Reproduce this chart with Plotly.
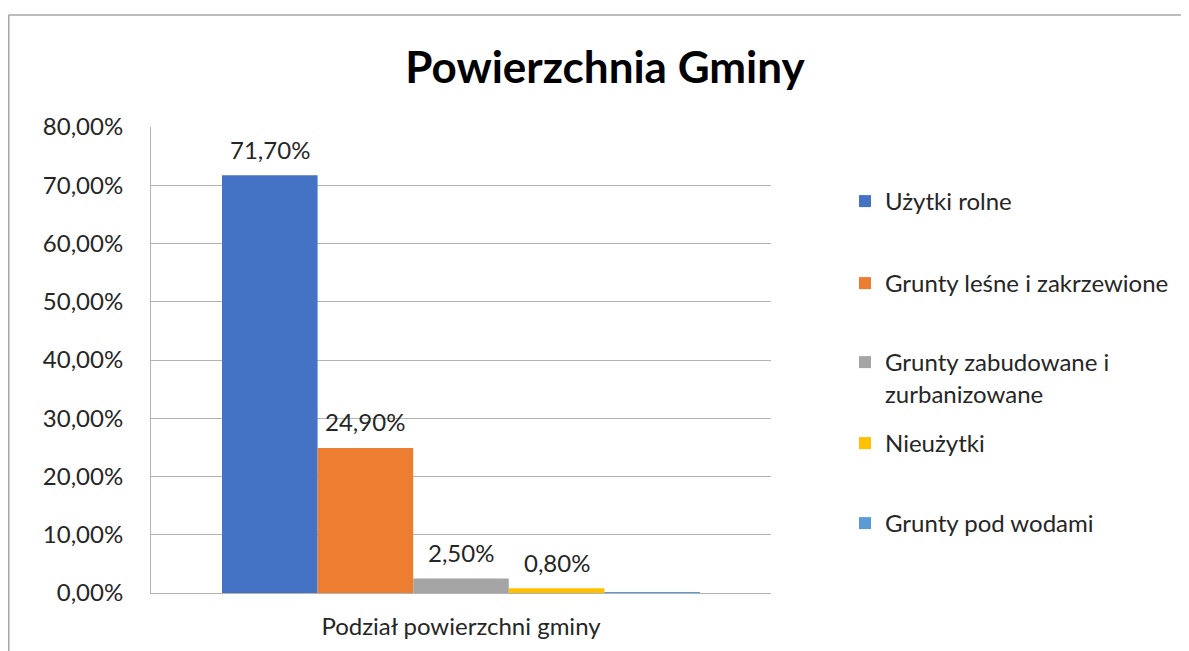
import plotly.graph_objects as go

title = "Powierzchnia Gminy"
category = ["Podział powierzchni gminy"]
series_names = ["Użytki rolne", "Grunty leśne i zakrzewione",
                "Grunty zabudowane i<br>zurbanizowane", "Nieużytki", "Grunty pod wodami"]
series_values = [0.717, 0.249, 0.025, 0.008, 0.001]
show_label = [True, True, True, True, False]
colors = ["#4472C4", "#ED7D31", "#A5A5A5", "#FFC000", "#5B9BD5"]
y_ticks = [0, 0.1, 0.2, 0.3, 0.4, 0.5, 0.6, 0.7, 0.8]

FONT = "Lato, 'Open Sans', sans-serif"
TXT = "#262626"
GRID = "#b3b3b3"

# figure is placed at (8, 8) in the page (body margin)
OFF = 8
W, H = 1189 - OFF, 651 - OFF
L, R, T, B = 151 - OFF, 771 - OFF, 127 - OFF, 593 - OFF
pw, ph = R - L, B - T
BARGAP = 0.229


def px(x):
    return (x - L) / pw


def py(y):
    return (B - y) / ph


n = len(series_names)
bar_px = pw * (1 - BARGAP) / n

fig = go.Figure()
legend_tops = [201, 283, 362, 443, 523]
legend_ids = ["legend", "legend2", "legend3", "legend4", "legend5"]
annotations = []
for i, (name, val) in enumerate(zip(series_names, series_values)):
    fig.add_trace(go.Bar(
        x=category, y=[val], name=name,
        marker=dict(color=colors[i], line=dict(width=0)),
        legend=legend_ids[i],
    ))
    if show_label[i]:
        annotations.append(dict(
            x=category[0], y=val, xref="x", yref="y",
            text=f"{val * 100:.2f}%".replace(".", ","),
            showarrow=False, xanchor="center", yanchor="middle",
            xshift=(i - (n - 1) / 2) * bar_px, yshift=26,
            font=dict(size=24, color=TXT, family=FONT),
        ))

legend_layout = {}
for i, lid in enumerate(legend_ids):
    center = legend_tops[i] - OFF
    legend_layout[lid] = dict(
        x=px(845 - OFF), xanchor="left", y=py(center - 22), yanchor="top",
        font=dict(size=24, color=TXT, family=FONT),
        itemwidth=30, valign="top", bgcolor="rgba(0,0,0,0)",
    )

fig.update_layout(
    width=W, height=H,
    margin=dict(l=L, r=W - R, t=T, b=H - B, autoexpand=False),
    paper_bgcolor="white", plot_bgcolor="white",
    separators=", ",
    barmode="group", bargap=BARGAP, bargroupgap=0,
    title=dict(text="<b>" + title + "</b>", xref="container", x=(605 - OFF) / W,
               xanchor="center", yref="container", y=1 - (68 - OFF) / H,
               yanchor="middle",
               font=dict(size=44, color="#000000", family=FONT)),
    font=dict(family=FONT, color=TXT, size=24),
    xaxis=dict(showgrid=False, showline=True, linecolor=GRID, linewidth=1,
               ticks="", tickfont=dict(size=24, color=TXT),
               ticklabelstandoff=12),
    yaxis=dict(range=[0, 0.8], tickvals=y_ticks, tickformat=".2%",
               showgrid=True, gridcolor=GRID, gridwidth=1,
               showline=True, linecolor=GRID, linewidth=1,
               zeroline=False, ticks="", tickfont=dict(size=24, color=TXT),
               ticklabelstandoff=22),
    showlegend=True,
    annotations=annotations,
    shapes=[
        dict(type="line", xref="paper", yref="paper", x0=px(0.75), x1=px(W + 10),
             y0=py(15 - OFF), y1=py(15 - OFF), line=dict(color="#a6a6a6", width=1.5)),
        dict(type="line", xref="paper", yref="paper", x0=px(0.75), x1=px(0.75),
             y0=py(15 - OFF), y1=py(H + 10), line=dict(color="#a6a6a6", width=1.5)),
    ],
    **legend_layout,
)

fig.write_html("out.html")
